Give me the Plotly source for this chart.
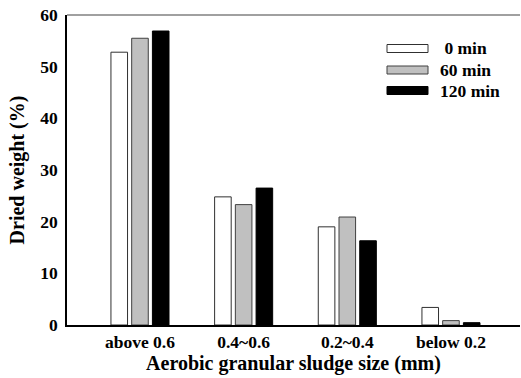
import plotly.graph_objects as go

categories = ["above 0.6", "0.4~0.6", "0.2~0.4", "below 0.2"]
series_names = ["0 min", "60 min", "120 min"]
values_0 = [52.8, 24.8, 19.0, 3.4]
values_60 = [55.5, 23.3, 20.9, 0.85]
values_120 = [56.9, 26.5, 16.3, 0.45]
y_ticks = [0, 10, 20, 30, 40, 50, 60]

fills = ["#ffffff", "#c0c0c0", "#000000"]
edges = ["#303030", "#404040", "#000000"]

FONT = "Liberation Serif, Times New Roman, serif"

fig = go.Figure()
for name, vals, fc, ec in zip(series_names, [values_0, values_60, values_120], fills, edges):
    fig.add_trace(go.Bar(
        x=categories, y=vals, name=name,
        marker=dict(color=fc, line=dict(color=ec, width=1)),
        showlegend=False,
    ))

# manual legend (wide flat swatches like the original)
W, H = 521, 378
L, R, T, B = 67, 1, 15, 53
pw, ph = W - L - R, H - T - B

def px_x(x):
    return (x - L) / pw

def px_y(y):
    return 1 - (y - T) / ph

row_y = [48.5, 70, 90.5]
for i, (name, fc, ec) in enumerate(zip(series_names, fills, edges)):
    yc = row_y[i]
    fig.add_shape(type="rect", xref="paper", yref="paper",
                  x0=px_x(387), x1=px_x(428), y0=px_y(yc + 4), y1=px_y(yc - 4),
                  fillcolor=fc, line=dict(color=ec, width=1))
    label = ("\u00a0" + name) if name == "0 min" else name
    fig.add_annotation(xref="paper", yref="paper", x=px_x(438), y=px_y(yc),
                       text=label, showarrow=False, xanchor="left", yanchor="middle",
                       font=dict(family=FONT, size=17.5, color="black", weight="bold"))

# gray top border
fig.add_shape(type="line", xref="paper", yref="paper", x0=0, x1=1, y0=1, y1=1,
              line=dict(color="#808080", width=1.5))

fig.update_layout(
    width=W, height=H, autosize=False,
    margin=dict(l=L, r=R, t=T, b=B, pad=0),
    paper_bgcolor="white", plot_bgcolor="white",
    font=dict(family=FONT, size=17.5, color="black", weight="bold"),
    barmode="group", bargap=0.4, bargroupgap=0.2,
    xaxis=dict(type="category", range=[-0.704, 3.666], showline=True,
               linecolor="black", linewidth=1.5, showgrid=False, ticks="",
               automargin=False,
               tickfont=dict(family=FONT, size=17.5, weight="bold"),
               title=dict(text="Aerobic granular sludge size (mm)", standoff=0,
                          font=dict(family=FONT, size=20, weight="bold"))),
    yaxis=dict(range=[0, 60], tickvals=y_ticks, showline=True, linecolor="black",
               linewidth=1.5, showgrid=False, zeroline=False, ticks="",
               automargin=False, ticklabelstandoff=4,
               tickfont=dict(family=FONT, size=17.5, weight="bold"),
               title=dict(text="Dried weight (%)", standoff=10,
                          font=dict(family=FONT, size=20, weight="bold"))),
)

fig.write_html("out.html", config={"displayModeBar": False},
               post_script="document.body.style.margin='0';document.body.style.padding='0';")
